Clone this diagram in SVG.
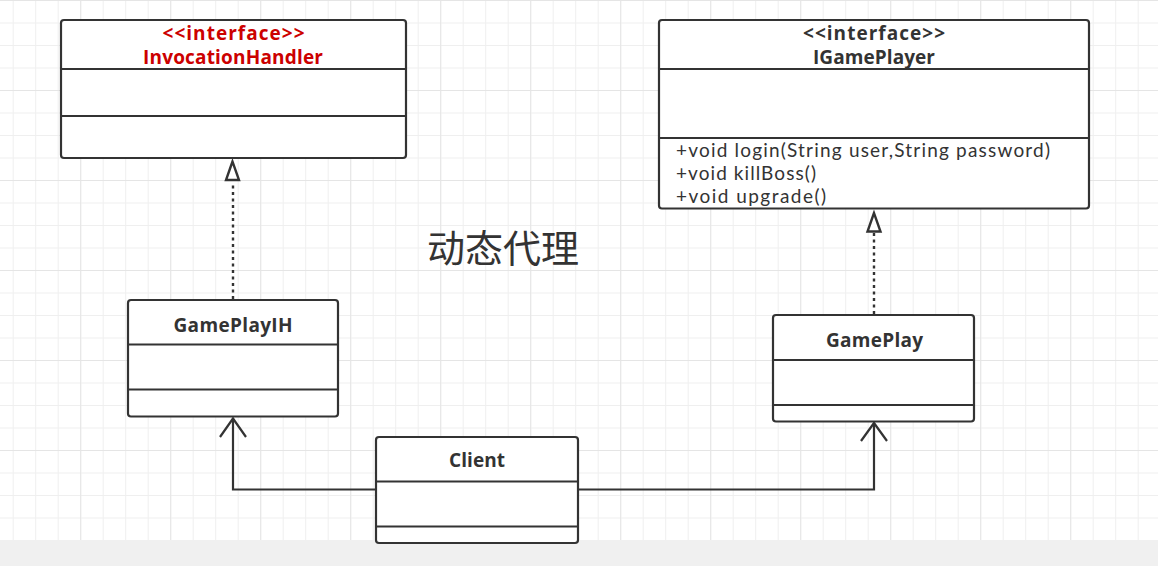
<svg xmlns="http://www.w3.org/2000/svg" width="1158" height="566" viewBox="0 0 1158 566">
<style>
.box{fill:#fff;stroke:#333;stroke-width:2.2}
.div{stroke:#333;stroke-width:2.2;fill:none}
.t{font-family:"Open Sans","Liberation Sans",sans-serif;font-weight:bold;font-size:19px;fill:#333;text-anchor:middle}
.red{fill:#cc0000}
.m{font-family:Lato,"Liberation Sans",sans-serif;font-size:19px;fill:#333}
.c{stroke:#333;stroke-width:2.2;fill:none}
.dot{stroke:#333;stroke-width:2.4;fill:none;stroke-dasharray:3 3.5}
.tri{fill:#fff;stroke:#333;stroke-width:2.4}
</style>
<defs>
<pattern id="g1" width="22.5" height="22.5" patternUnits="userSpaceOnUse" x="12.7" y="0">
<path d="M0.5 0V22.5M0 0.5H22.5" stroke="#efefef" stroke-width="1" fill="none"/>
</pattern>
<pattern id="g2" width="90" height="90" patternUnits="userSpaceOnUse" x="80.2" y="0">
<path d="M0.5 0V90M0 0.5H90" stroke="#e5e5e5" stroke-width="1" fill="none"/>
</pattern>
</defs>
<rect width="1158" height="566" fill="#fff"/>
<rect width="1158" height="540" fill="url(#g1)"/>
<rect width="1158" height="540" fill="url(#g2)"/>
<rect y="540" width="1158" height="26" fill="#f0f0f0"/>

<g id="connectors">
<path class="c" d="M578 489.5H874V423"/>
<polyline class="c" points="861,441 874,423 887,441"/>
<path class="c" d="M376 489.5H233V418.5"/>
<polyline class="c" points="220,437 233,418.5 246,437"/>
<path class="dot" d="M233 299V182"/>
<polygon class="tri" points="232.5,161.5 226,180 239,180"/>
<path class="dot" d="M874 314V233"/>
<polygon class="tri" points="874,213 867.5,231.5 880.5,231.5"/>
</g>

<g id="InvocationHandler">
<rect class="box" x="61" y="20" width="345" height="138" rx="3"/>
<path class="div" d="M61 69H406M61 116H406"/>
<text class="t red" x="233.5" y="40" textLength="142">&lt;&lt;interface&gt;&gt;</text>
<text class="t red" x="233" y="64" textLength="180">InvocationHandler</text>
</g>

<g id="IGamePlayer">
<rect class="box" x="659" y="20" width="430" height="188.5" rx="3"/>
<path class="div" d="M659 69H1089M659 138H1089"/>
<text class="t" x="874" y="40" textLength="142">&lt;&lt;interface&gt;&gt;</text>
<text class="t" x="874" y="64" textLength="122">IGamePlayer</text>
<text class="m" x="676" y="157" textLength="374">+void login(String user,String password)</text>
<text class="m" x="676" y="180" textLength="140">+void killBoss()</text>
<text class="m" x="676" y="203" textLength="150">+void upgrade()</text>
</g>

<g id="GamePlayIH">
<rect class="box" x="128" y="300" width="210" height="116.5" rx="3"/>
<path class="div" d="M128 344.5H338M128 389.5H338"/>
<text class="t" x="233" y="331.5" textLength="119">GamePlayIH</text>
</g>

<g id="GamePlay">
<rect class="box" x="773" y="315" width="201" height="106.5" rx="3"/>
<path class="div" d="M773 360H974M773 405H974"/>
<text class="t" x="874.5" y="346.5" textLength="97">GamePlay</text>
</g>

<g id="Client">
<rect class="box" x="376" y="437" width="202" height="106" rx="3"/>
<path class="div" d="M376 481.5H578M376 526.5H578"/>
<text class="t" x="477" y="466.5" textLength="56">Client</text>
</g>

<g id="title">
<text x="503" y="262" font-family="'Noto Sans CJK SC',sans-serif" font-size="38" fill="#333" text-anchor="middle">动态代理</text>
</g>
</svg>
